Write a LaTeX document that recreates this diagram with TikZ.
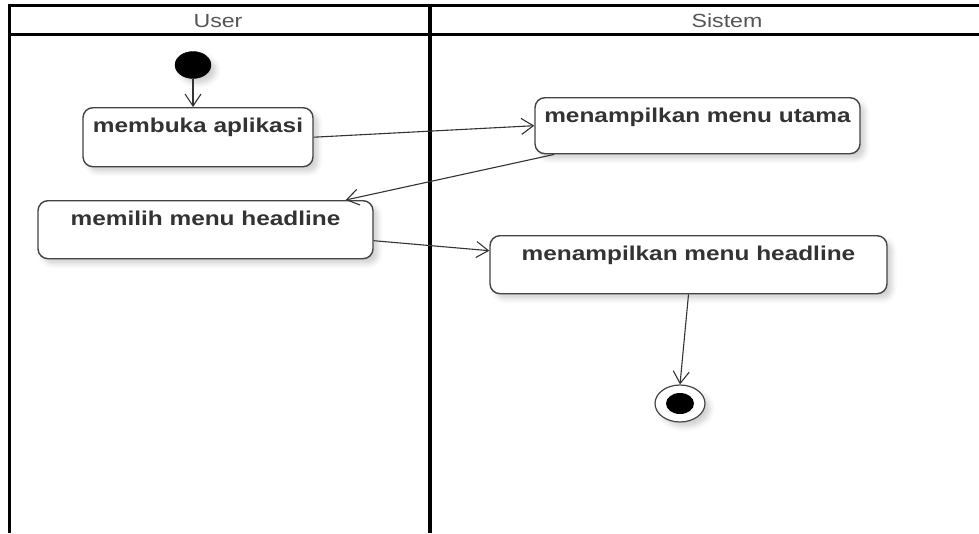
\documentclass[tikz,border=0pt]{standalone}
\usepackage{fontspec}
\setmainfont{Liberation Sans}
\newfontfamily\headfont[FakeStretch=1.22]{Liberation Sans}
\newfontfamily\actfont[FakeStretch=1.22]{Liberation Sans Bold}
\usetikzlibrary{arrows.meta,shapes.geometric,shadows.blur}

\definecolor{laneline}{HTML}{000000}
\definecolor{headtext}{HTML}{555555}
\definecolor{boxline}{HTML}{444444}
\definecolor{boxtext}{HTML}{333333}
\definecolor{connline}{HTML}{333333}

\tikzset{
  lanerule/.style={draw=laneline},
  lanehead/.style={anchor=base, inner sep=0pt, text=headtext,
    font=\headfont\fontsize{19}{22}\selectfont},
  softshadow/.style={blur shadow={shadow xshift=5pt, shadow yshift=-5pt,
    shadow blur radius=5pt, shadow opacity=18}},
  action/.style={draw=boxline, line width=1.4pt, rounded corners=10pt,
    fill=white, anchor=north, inner xsep=0pt, inner ysep=0pt,
    text height=25pt, text=boxtext, softshadow,
    font=\actfont\fontsize{20}{23}\selectfont},
  startnode/.style={ellipse, fill=black, draw=black, minimum width=36pt,
    minimum height=27pt, inner sep=0pt, softshadow},
  endouter/.style={ellipse, fill=white, draw=boxline, line width=1.2pt,
    minimum width=50pt, minimum height=37pt, inner sep=0pt, softshadow},
  endinner/.style={ellipse, fill=black, minimum width=28pt,
    minimum height=21pt, inner sep=0pt},
  flow/.style={draw=connline, line width=1.1pt,
    -{Straight Barb[length=12pt,width=16pt,line width=1.1pt]}},
}

\begin{document}
\begin{tikzpicture}[x=1pt,y=-1pt]
  \useasboundingbox (0,0) rectangle (979,533);

  % swimlane frame
  \draw[lanerule, line width=2.6pt] (7.5,5.3) -- (979,5.3);
  \draw[lanerule, line width=2.6pt] (7.5,34.6) -- (979,34.6);
  \draw[lanerule, line width=3pt] (9,4) -- (9,533);
  \draw[lanerule, line width=4.5pt] (430,4) -- (430,533);

  \node[lanehead] (userhead) at (218,27) {User};
  \node[lanehead] (sistemhead) at (727,27) {Sistem};

  % activities
  \node[action, minimum width=230pt, text depth=34pt] (buka) at (198,107) {membuka aplikasi};
  \node[action, minimum width=325pt, text depth=31pt] (utama) at (697.5,97) {menampilkan menu utama};
  \node[action, minimum width=335pt, text depth=33pt] (pilih) at (205.5,200) {memilih menu headline};
  \node[action, minimum width=397pt, text depth=33pt] (headline) at (688.5,235) {menampilkan menu headline};

  % initial and final states
  \node[startnode] (start) at (193,65) {};
  \node[endouter] (final) at (680,403.5) {};
  \node[endinner] (finaldot) at (final.center) {};

  % control flow
  \draw[flow] (start.south) -- (start.south |- buka.north);
  \draw[flow] (buka.east) -- (utama.west);
  \draw[flow] ([xshift=20pt]utama.south west) -- ([xshift=-28pt]pilih.north east);
  \draw[flow] ([yshift=-11pt]pilih.east) -- ([yshift=14pt]headline.west);
  \draw[flow] (headline.south) -- (final.north);
\end{tikzpicture}
\end{document}
